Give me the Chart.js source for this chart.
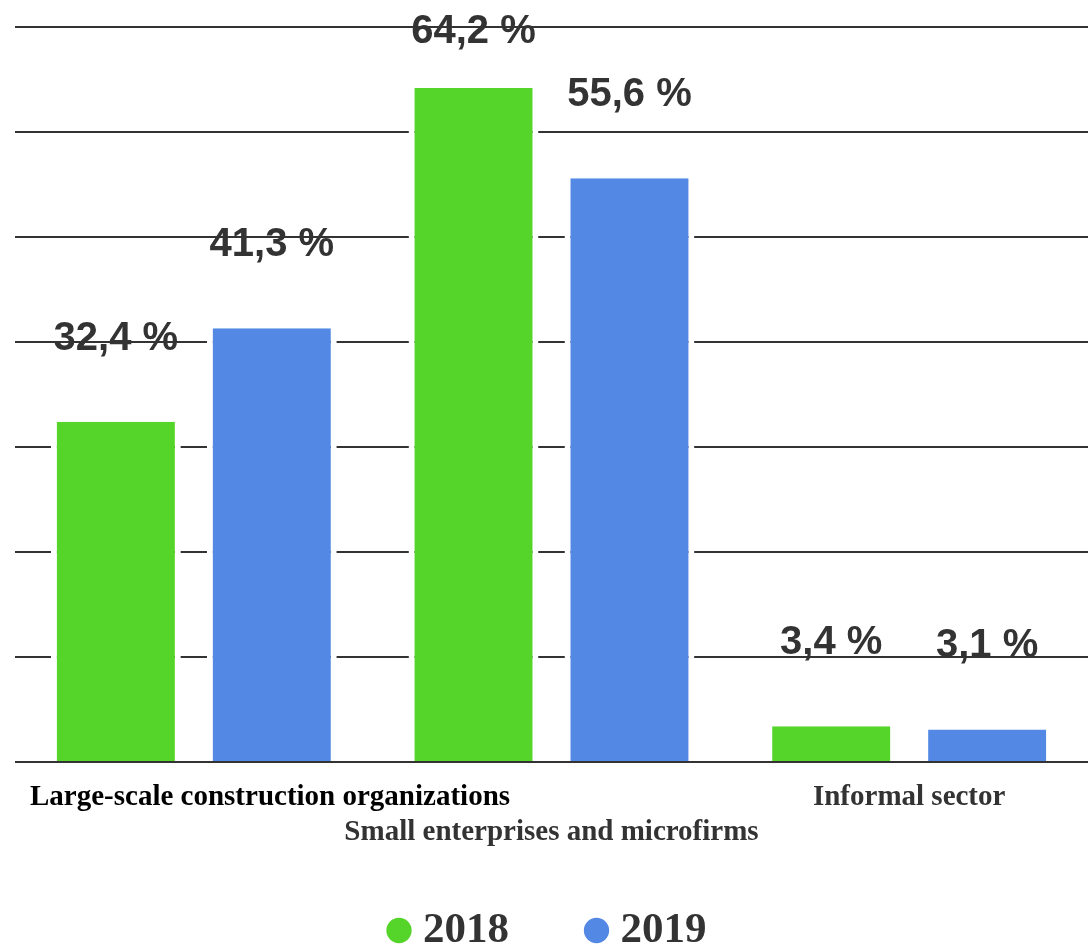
<!DOCTYPE html>
<html>
<head>
<meta charset="utf-8">
<script src="https://cdn.jsdelivr.net/npm/chart.js@4.4.1/dist/chart.umd.min.js"></script>
<style>
  html, body { margin: 0; padding: 0; background: #fff; }
  #wrap { width: 1088px; height: 944px; }
</style>
</head>
<body>
<div id="wrap"><canvas id="chart"></canvas></div>
<script>
const categories = [
    'Large-scale construction organizations',
    'Small enterprises and microfirms',
    'Informal sector'
]
const seriesNames = ['2018', '2019']
const values2018 = [32.4, 64.2, 3.4]
const values2019 = [41.3, 55.6, 3.1]
const yTicks = [0, 10, 20, 30, 40, 50, 60, 70]

const serif = "'Liberation Serif', 'Times New Roman', serif"
const sans = "'Liberation Sans', Arial, sans-serif"

// value labels like "32,4 %" drawn above each bar
const valueLabels = {
    id: 'valueLabels',
    afterDatasetsDraw(chart){
        const ctx = chart.ctx
        ctx.save()
        ctx.font = 'bold 40px ' + sans
        ctx.fillStyle = '#333333'
        ctx.textAlign = 'center'
        ctx.textBaseline = 'middle'
        chart.data.datasets.forEach((ds, di) => {
            chart.getDatasetMeta(di).data.forEach((bar, i) => {
                const txt = ds.data[i].toFixed(1).replace('.', ',') + ' %'
                const y = Math.max(bar.y - 83, chart.chartArea.top + 5)
                ctx.fillText(txt, bar.x, y)
            })
        })
        ctx.restore()
    }
}

// category names under the axis, staggered on two rows
const categoryLabels = {
    id: 'categoryLabels',
    afterDraw(chart){
        const ctx = chart.ctx
        const xs = chart.scales.x
        const base = chart.chartArea.bottom
        ctx.save()
        ctx.font = 'bold 29px ' + serif
        ctx.textAlign = 'center'
        ctx.textBaseline = 'middle'
        categories.forEach((name, i) => {
            const w = ctx.measureText(name).width
            let x = xs.getPixelForValue(i)
            x = Math.max(x, 30 + w / 2)
            ctx.fillStyle = i === 0 ? '#000000' : '#333333'
            const y = base + (i % 2 === 0 ? 36 : 71)
            ctx.fillText(name, x, y)
        })
        ctx.restore()
    }
}

new Chart(document.getElementById('chart'), {
    type: 'bar',
    data: {
        labels: categories,
        datasets: [
            {
                label: seriesNames[0],
                data: values2018,
                backgroundColor: '#55d42a',
                borderColor: '#ffffff',
                borderWidth: {left: 6, right: 6, top: 0, bottom: 0},
                borderSkipped: false,
                categoryPercentage: 0.872,
                barPercentage: 0.833
            },
            {
                label: seriesNames[1],
                data: values2019,
                backgroundColor: '#5389e5',
                borderColor: '#ffffff',
                borderWidth: {left: 6, right: 6, top: 0, bottom: 0},
                borderSkipped: false,
                categoryPercentage: 0.872,
                barPercentage: 0.833
            }
        ]
    },
    options: {
        responsive: true,
        maintainAspectRatio: false,
        animation: false,
        layout: {
            padding: {left: 15, right: 0, top: 27, bottom: -18}
        },
        scales: {
            x: {
                ticks: {display: false},
                grid: {display: false},
                border: {display: false},
                afterFit(scale){ scale.height = 62 }
            },
            y: {
                min: 0,
                max: yTicks[yTicks.length - 1],
                afterBuildTicks(scale){ scale.ticks = yTicks.map(v => ({value: v})) },
                ticks: {display: false},
                grid: {color: '#333333', lineWidth: 2, drawTicks: false},
                border: {display: false},
                afterFit(scale){ scale.width = 0 }
            }
        },
        plugins: {
            legend: {
                position: 'bottom',
                labels: {
                    usePointStyle: true,
                    pointStyle: 'circle',
                    boxWidth: 5,
                    boxHeight: 20,
                    padding: 85,
                    color: '#333333',
                    font: {family: serif, size: 43, weight: 'bold'}
                }
            },
            tooltip: {enabled: false}
        }
    },
    plugins: [valueLabels, categoryLabels]
})
</script>
</body>
</html>
